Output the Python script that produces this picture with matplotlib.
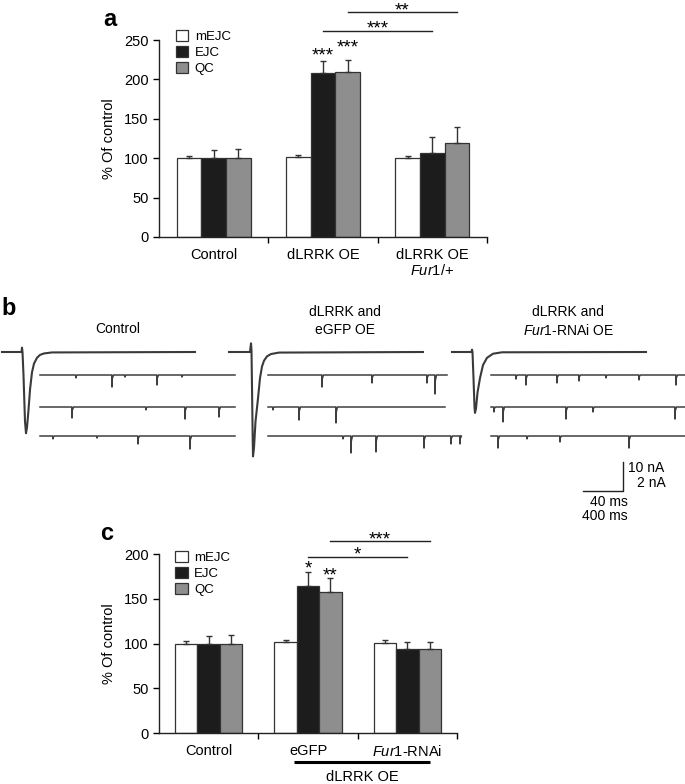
import matplotlib
matplotlib.use('Agg')
import matplotlib.pyplot as plt
from matplotlib.patches import Patch

plt.rcParams['font.family'] = ['Liberation Sans', 'DejaVu Sans']
plt.rcParams['mathtext.fontset'] = 'custom'
plt.rcParams['mathtext.rm'] = 'Liberation Sans'
plt.rcParams['mathtext.it'] = 'Liberation Sans:italic'

# ---- bar data ----
series = ['mEJC', 'EJC', 'QC']
bar_colors = ['white', '#1c1c1c', '#8e8e8e']

groups_a = ['Control', 'dLRRK OE', 'dLRRK OE']
mejc_a = [100, 101, 100]
ejc_a = [100, 208, 107]
qc_a = [100, 210, 119]
mejc_a_err = [2.5, 3.5, 2.5]
ejc_a_err = [11, 15, 20]
qc_a_err = [12, 15, 20]

groups_c = ['Control', 'eGFP', r'$\mathit{Fur1}$-RNAi']
mejc_c = [100, 102, 101]
ejc_c = [100, 164, 93.5]
qc_c = [100, 158, 93.5]
mejc_c_err = [3, 2, 3]
ejc_c_err = [9, 15.5, 8.5]
qc_c_err = [9.5, 15.5, 8.5]

# significance: (x, text baseline, label) over bars and (x1, x2, y, label) brackets
stars_a = [(1.0, 224, '***'), (1.225, 234, '***')]
lines_a = [(1.0, 2.0, 262, '***'), (1.225, 2.225, 285, '**')]
stars_c = [(1.0, 178.4, '*'), (1.226, 170.5, '**')]
lines_c = [(1.0, 2.0, 197, '*'), (1.226, 2.226, 214.5, '***')]

# ---- trace data (panel b) ----
# evoked EJC waveforms: time (ms) and current (nA)
ejc_t_ctrl = [0, 19.5, 20, 20.5, 21.5, 23, 24, 25, 26.5, 28, 30, 32, 35, 38, 42, 50, 193]
ejc_i_ctrl = [0, 0, 1.5, 0, -8, -24, -28, -26, -20, -13, -7, -4, -2, -1, -0.5, -0.15, 0]
ejc_t_egfp = [0, 21, 22, 22.5, 23, 23.7, 24, 25, 26.5, 29, 31, 33, 35, 38, 42, 50, 194]
ejc_i_egfp = [0, 0, 3, 0.5, -12, -30, -36, -33, -24, -16, -9, -5, -3, -1.5, -0.7, -0.2, 0]
ejc_t_fur1 = [0, 19.5, 20, 20.5, 21.5, 22.5, 23, 24, 25.5, 28, 31, 35, 41, 50, 194]
ejc_i_fur1 = [0, 0, 0.8, 0, -9, -19, -21, -19.5, -14, -9, -4.5, -2, -0.6, -0.1, 0]

# spontaneous minis per sweep: event times (ms), amplitudes (nA), sweep length (ms)
mini_t_ctrl = [[360, 720, 850, 1170, 1420], [320, 1060, 1450, 1790], [130, 570, 980, 1500]]
mini_a_ctrl = [[0.2, 0.83, 0.14, 0.69, 0.14], [0.76, 0.2, 0.83, 0.69], [0.2, 0.14, 0.55, 0.9]]
mini_len_ctrl = [1950, 1950, 1950]
mini_t_egfp = [[540, 1040, 1590, 1670], [50, 310, 680], [750, 830, 1080, 1560, 1830, 1920]]
mini_a_egfp = [[0.83, 0.55, 0.55, 1.31], [0.2, 0.9, 1.1], [0.2, 1.17, 1.1, 0.83, 0.55, 0.55]]
mini_len_egfp = [1790, 1770, 1930]
mini_t_fur1 = [[250, 350, 660, 880, 1150, 1480, 1850], [30, 120, 750, 1020, 1840], [70, 360, 690, 1380]]
mini_a_fur1 = [[0.28, 0.69, 0.55, 0.41, 0.2, 0.34, 0.69], [0.34, 1.03, 0.83, 0.34, 0.83],
               [0.83, 0.2, 0.41, 0.83]]
mini_len_fur1 = [1940, 1940, 1940]

W, H = 685, 784
fig = plt.figure(figsize=(W / 100, H / 100), dpi=100)


def bar_panel(rect, ylim, yticks, groups, vals, errs, stars, lines, leg_anchor):
    ax = fig.add_axes(rect)
    bw = 0.225
    for k in range(3):
        xs = [g + (k - 1) * bw for g in range(3)]
        ax.bar(xs, vals[k], bw, color=bar_colors[k], edgecolor='#333333', linewidth=0.9,
               yerr=[[0] * 3, errs[k]], capsize=2.5,
               error_kw=dict(elinewidth=1.0, ecolor='#333333', capthick=1.0))
    ax.set_xlim(-0.5, 2.5)
    ax.set_ylim(*ylim)
    ax.set_yticks(yticks)
    ax.set_xticks(range(3))
    ax.set_xticklabels(groups)
    ax.set_xticks([0.5, 1.5, 2.5], minor=True)
    ax.tick_params(axis='x', which='major', length=0, pad=8, labelsize=10.5)
    ax.tick_params(axis='x', which='minor', length=4, width=1, direction='out')
    ax.tick_params(axis='y', length=4, width=1, labelsize=10.5)
    for s in ['top', 'right']:
        ax.spines[s].set_visible(False)
    for s in ['left', 'bottom']:
        ax.spines[s].set_linewidth(1.0)
        ax.spines[s].set_color('#222222')
    ax.set_ylabel('% Of control', fontsize=10.5, labelpad=6)
    for x, y, lab in stars:
        ax.text(x, y, lab, ha='center', va='baseline', fontsize=13.5)
    for x1, x2, y, lab in lines:
        ax.plot([x1, x2], [y, y], color='#222222', lw=1.0, clip_on=False)
        ax.annotate(lab, ((x1 + x2) / 2, y), xytext=(0, -2.3), textcoords='offset points',
                    ha='center', va='baseline', fontsize=13.5, annotation_clip=False)
    handles = [Patch(facecolor=c, edgecolor='#333333', linewidth=0.9) for c in bar_colors]
    ax.legend(handles, series, loc='upper left', bbox_to_anchor=leg_anchor, frameon=False,
              handlelength=0.92, handleheight=0.92, handletextpad=0.5, labelspacing=0.22,
              fontsize=9.5, borderaxespad=0, borderpad=0)
    return ax


# panel a
ax_a = bar_panel([159 / W, 1 - 237 / H, 328 / W, 197 / H], (0, 250), range(0, 251, 50),
                 groups_a, [mejc_a, ejc_a, qc_a], [mejc_a_err, ejc_a_err, qc_a_err],
                 stars_a, lines_a, (0.052, 1.05))
ax_a.text(2.0, -0.168, r'$\mathit{Fur1}$/+', transform=ax_a.get_xaxis_transform(),
          ha='center', va='center', fontsize=10.5)

# panel c
ax_c = bar_panel([159 / W, 1 - 733.3 / H, 298 / W, 179.3 / H], (0, 200), range(0, 201, 50),
                 groups_c, [mejc_c, ejc_c, qc_c], [mejc_c_err, ejc_c_err, qc_c_err],
                 stars_c, lines_c, (0.055, 1.018))
ax_c.plot([0.86, 2.23], [-0.16, -0.16], color='black', lw=2.2, solid_capstyle='butt',
          transform=ax_c.get_xaxis_transform(), clip_on=False)
ax_c.text(1.545, -0.244, 'dLRRK OE', transform=ax_c.get_xaxis_transform(),
          ha='center', va='center', fontsize=10.5)

# panel b: traces on a pixel-space overlay
ov = fig.add_axes([0, 0, 1, 1])
ov.set_xlim(0, W)
ov.set_ylim(H, 0)
ov.axis('off')

ejc_ms_px = 1.0      # 40 ms -> 40 px
ejc_na_px = 2.9      # 10 nA -> 29 px
mini_ms_px = 0.1     # 400 ms -> 40 px
mini_na_px = 14.5    # 2 nA -> 29 px
ejc_base = 352
row_base = [375, 407, 436]
tmpl_dt = [-2, 0, 3, 15]
tmpl_rel = [0, 1, 0.3, 0]

conditions = [
    (2, 40, ejc_t_ctrl, ejc_i_ctrl, mini_t_ctrl, mini_a_ctrl, mini_len_ctrl),
    (229, 268, ejc_t_egfp, ejc_i_egfp, mini_t_egfp, mini_a_egfp, mini_len_egfp),
    (452, 491, ejc_t_fur1, ejc_i_fur1, mini_t_fur1, mini_a_fur1, mini_len_fur1),
]
for x0, r0, et, ei, mt, ma, ml in conditions:
    ov.plot([x0 + t * ejc_ms_px for t in et], [ejc_base - i * ejc_na_px for i in ei],
            color='#3a3a3a', lw=1.5, solid_joinstyle='round')
    for r in range(3):
        xs, ys = [0], [0]
        for t, a in zip(mt[r], ma[r]):
            for dt, rel in zip(tmpl_dt, tmpl_rel):
                xs.append(t + dt)
                ys.append(-a * rel)
        xs.append(ml[r])
        ys.append(0)
        ov.plot([r0 + x * mini_ms_px for x in xs], [row_base[r] - y * mini_na_px for y in ys],
                color='#3f3f3f', lw=1.1)

# scale bar
sx, sy = 623, 491
ov.plot([sx - 40 * ejc_ms_px, sx, sx], [sy, sy, sy - 10 * ejc_na_px], color='#222222', lw=1.0)
ov.text(628, 468, '10 nA', ha='left', va='center', fontsize=10)
ov.text(666, 483, '2 nA', ha='right', va='center', fontsize=10)
ov.text(628, 502, '40 ms', ha='right', va='center', fontsize=10)
ov.text(628, 516, '400 ms', ha='right', va='center', fontsize=10)

# panel b titles
ov.text(118, 329, 'Control', ha='center', va='center', fontsize=10)
ov.text(345, 312, 'dLRRK and', ha='center', va='center', fontsize=10)
ov.text(345, 330, 'eGFP OE', ha='center', va='center', fontsize=10)
ov.text(568, 312, 'dLRRK and', ha='center', va='center', fontsize=10)
ov.text(568, 330, r'$\mathit{Fur1}$-RNAi OE', ha='center', va='center', fontsize=10)

# panel letters
ov.text(103, 19, 'a', ha='left', va='center', fontsize=17, fontweight='bold')
ov.text(1, 308, 'b', ha='left', va='center', fontsize=17, fontweight='bold')
ov.text(100, 533, 'c', ha='left', va='center', fontsize=17, fontweight='bold')

fig.savefig('out.png', dpi=100)
